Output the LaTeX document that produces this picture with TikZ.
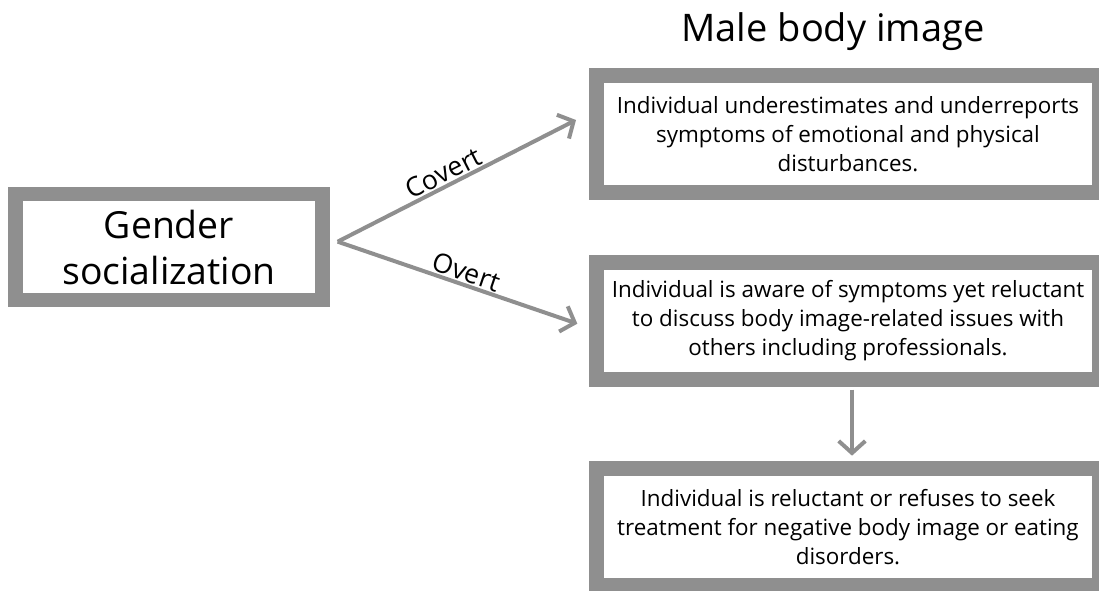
\documentclass[tikz,border=0pt]{standalone}
\usepackage{fontspec}
\setmainfont{Open Sans}
\usetikzlibrary{arrows.meta,positioning}
\definecolor{framegray}{RGB}{143,143,143}
\tikzset{
  frame/.style={draw=framegray,line width=11pt,fill=white,align=center,
    inner sep=0pt},
  sidebox/.style={frame,minimum width=377pt,minimum height=88pt,
    font=\fontsize{16.8}{21.8}\selectfont},
  flow/.style={draw=framegray,line width=3pt,
    -{Straight Barb[length=9pt,width=20pt,line width=3pt]}},
  label/.style={font=\fontsize{20}{24}\selectfont,inner sep=1pt}
}
\begin{document}
\begin{tikzpicture}[x=0.75pt,y=-0.75pt]
\useasboundingbox (0,0) rectangle (1099,590);

% Left box
\node[frame,minimum width=230pt,minimum height=79.5pt,
  font=\fontsize{28}{34.5}\selectfont] (gs) at (169,247)
  {Gender\\socialization};

% Heading
\node[font=\fontsize{28.5}{34}\selectfont] (title) at (833,32) {Male body image};

% Right boxes
\node[sidebox] (under) at (848,134)
  {Individual underestimates and underreports\\
   symptoms of emotional and physical\\disturbances.};
\node[sidebox] (aware) at (848,321)
  {Individual is aware of symptoms yet reluctant\\
   to discuss body image-related issues with\\
   others including professionals.};
\node[sidebox] (refuse) at (848,527)
  {Individual is reluctant or refuses to seek\\
   treatment for negative body image or eating\\disorders.};

% Split point and the two paths
\path (gs.east) ++(6pt,4pt) coordinate (split);
\draw[flow] (split) -- node[label,sloped,above,pos=0.47] {Covert}
  ([shift={(-10pt,10.5pt)}]under.west);
\draw[flow] (split) -- node[label,sloped,above,pos=0.52] {Overt}
  ([shift={(-9pt,-2pt)}]aware.west);

% Down arrow
\draw[flow,shorten <=2pt,shorten >=4pt] ([xshift=3pt]aware.south) -- ([xshift=3pt]refuse.north);
\end{tikzpicture}
\end{document}
